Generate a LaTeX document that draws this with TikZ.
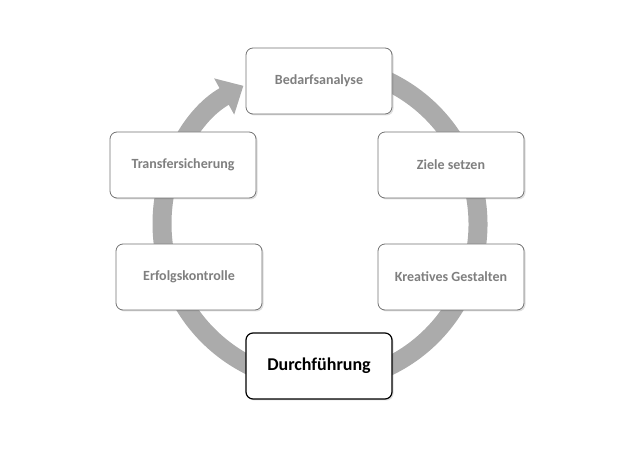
\documentclass[tikz,border=0pt]{standalone}
\usepackage{fontspec}
\setmainfont{Carlito}
\usetikzlibrary{arrows.meta,shadows,calc}
\definecolor{ring}{HTML}{ABABAB}
\definecolor{txt}{HTML}{7F7F7F}
\begin{document}
\begin{tikzpicture}[x=1pt,y=1pt,
  box/.style={draw=black!55,line width=0.8pt,rounded corners=7pt,fill=white,minimum width=146pt,minimum height=66pt,font=\bfseries\fontsize{14}{16}\selectfont,text=txt,drop shadow={shadow xshift=1.5pt,shadow yshift=-1.5pt,opacity=0.25}}]
\useasboundingbox (0,0) rectangle (639,452);
\coordinate (c) at (320,228);
\draw[ring,line width=19pt,-{Triangle[width=40pt,length=22pt]}] ($(c)+(95:158)$) arc[start angle=95,end angle=-241,radius=158];
\node[box] (b) at (319,371) {Bedarfsanalyse};
\node[box] (z) at (451,287) {Ziele setzen};
\node[box] (k) at (451,175) {Kreatives Gestalten};
\node[box,draw=black,line width=1.2pt,text=black,font=\bfseries\fontsize{18}{20}\selectfont] (d) at (319,86) {Durchführung};
\node[box] (e) at (189,175) {Erfolgskontrolle};
\node[box] (t) at (183,287) {Transfersicherung};
\end{tikzpicture}
\end{document}
